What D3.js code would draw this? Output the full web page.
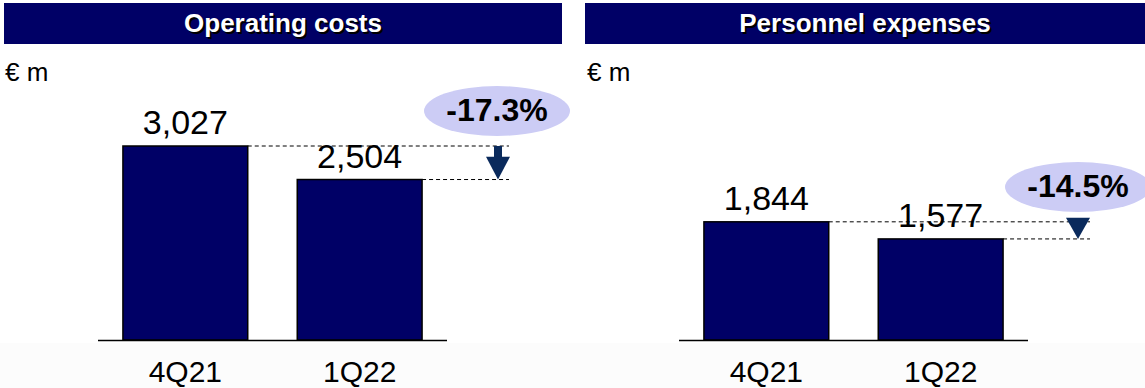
<!DOCTYPE html>
<html><head><meta charset="utf-8">
<script src="https://cdn.jsdelivr.net/npm/d3@7/dist/d3.min.js"></script>
<style>
html,body{margin:0;padding:0;background:#fff;}
svg{display:block;font-family:Arial,"Liberation Sans",sans-serif;}
</style></head>
<body>
<svg id="chart" width="1145" height="388"></svg>
<script>
const categories = ["4Q21", "1Q22"];
const panelTitles = ["Operating costs", "Personnel expenses"];
const operatingCosts = [3027, 2504];
const personnelExpenses = [1844, 1577];
const changeLabels = ["-17.3%", "-14.5%"];
const unitLabel = "€ m";

const svg = d3.select("#chart");
const fmt = d3.format(",");
const navy = "#000066";

// faint grey band at the bottom
svg.append("rect").attr("x",0).attr("y",343).attr("width",1145).attr("height",45).attr("fill","#fcfcfc");

const y = d3.scaleLinear().domain([0, 3027]).range([340, 146]);

const panels = [
  {title: panelTitles[0], values: operatingCosts, change: changeLabels[0], hx: 4, hw: 558, ux: 5, range:[98,447], endX: 509, arrowX: 498, shaft: true, ell:{cx:497, cy:111}},
  {title: panelTitles[1], values: personnelExpenses, change: changeLabels[1], hx: 585, hw: 560, ux: 587, range:[679,1028], endX: 1090, arrowX: 1078, shaft: false, ell:{cx:1078, cy:187}}
];

panels.forEach(p => {
  const g = svg.append("g");
  // header
  g.append("rect").attr("x", p.hx).attr("y", 3).attr("width", p.hw).attr("height", 41).attr("fill", navy);
  const tcx = p.hx + p.hw/2;
  g.append("text").attr("x", tcx+2).attr("y", 34).attr("text-anchor","middle")
    .attr("font-size", 26).attr("font-weight","bold").attr("fill","#000").text(p.title);
  g.append("text").attr("x", tcx).attr("y", 32).attr("text-anchor","middle")
    .attr("font-size", 26).attr("font-weight","bold").attr("fill","#fff").text(p.title);
  // unit
  g.append("text").attr("x", p.ux).attr("y", 81).attr("font-size", 26).attr("fill","#000").text(unitLabel);

  const x = d3.scaleBand().domain(categories).range(p.range).paddingInner(0.284).paddingOuter(0.143);

  // bars
  g.selectAll("rect.bar").data(p.values).join("rect").attr("class","bar")
    .attr("x", (d,i) => x(categories[i]))
    .attr("y", d => y(d))
    .attr("width", x.bandwidth())
    .attr("height", d => y(0) - y(d))
    .attr("fill", navy).attr("stroke","#000").attr("stroke-width",1.5);

  // baseline
  g.append("line").attr("x1", p.range[0]).attr("x2", p.range[1]).attr("y1", y(0)+0.5).attr("y2", y(0)+0.5)
    .attr("stroke","#000").attr("stroke-width",1.5);

  // value labels
  g.selectAll("text.val").data(p.values).join("text").attr("class","val")
    .attr("x", (d,i) => x(categories[i]) + x.bandwidth()/2)
    .attr("y", d => y(d) - 12)
    .attr("text-anchor","middle").attr("font-size", 34).attr("fill","#000")
    .text(d => fmt(d));

  // category axis
  const ax = g.append("g").attr("transform", `translate(0,${y(0)})`)
    .call(d3.axisBottom(x).tickSize(0).tickPadding(0));
  ax.select(".domain").remove();
  ax.selectAll("text").attr("y", 42).attr("dy", 0).attr("font-size", 30)
    .attr("font-family","Arial, 'Liberation Sans', sans-serif").attr("fill","#000");

  // dashed reference lines
  p.values.forEach((d,i) => {
    g.append("line").attr("x1", x(categories[i]) + x.bandwidth()).attr("x2", p.endX)
      .attr("y1", y(d)).attr("y2", y(d))
      .attr("stroke","#000").attr("stroke-width",1).attr("stroke-dasharray","4,3");
  });

  // arrow
  const yTop = y(p.values[0]), yBot = y(p.values[1]);
  const ac = "#0a2a5c";
  if (p.shaft) {
    const headTop = yTop + (yBot - yTop) * 0.32;
    g.append("rect").attr("x", p.arrowX - 4).attr("y", yTop).attr("width", 8).attr("height", headTop - yTop + 1).attr("fill", ac);
    g.append("path").attr("d", `M${p.arrowX-12},${headTop} L${p.arrowX+12},${headTop} L${p.arrowX},${yBot} Z`).attr("fill", ac);
  } else {
    g.append("path").attr("d", `M${p.arrowX-12},${yTop-4} L${p.arrowX+12},${yTop-4} L${p.arrowX},${yBot} Z`).attr("fill", ac);
  }

  // ellipse + change label
  g.append("ellipse").attr("cx", p.ell.cx).attr("cy", p.ell.cy).attr("rx", 73).attr("ry", 25).attr("fill", "#ccccf5");
  g.append("text").attr("x", p.ell.cx).attr("y", p.ell.cy + 10).attr("text-anchor","middle")
    .attr("font-size", 32).attr("font-weight","bold").attr("fill","#000").text(p.change);
});
</script>
</body></html>
